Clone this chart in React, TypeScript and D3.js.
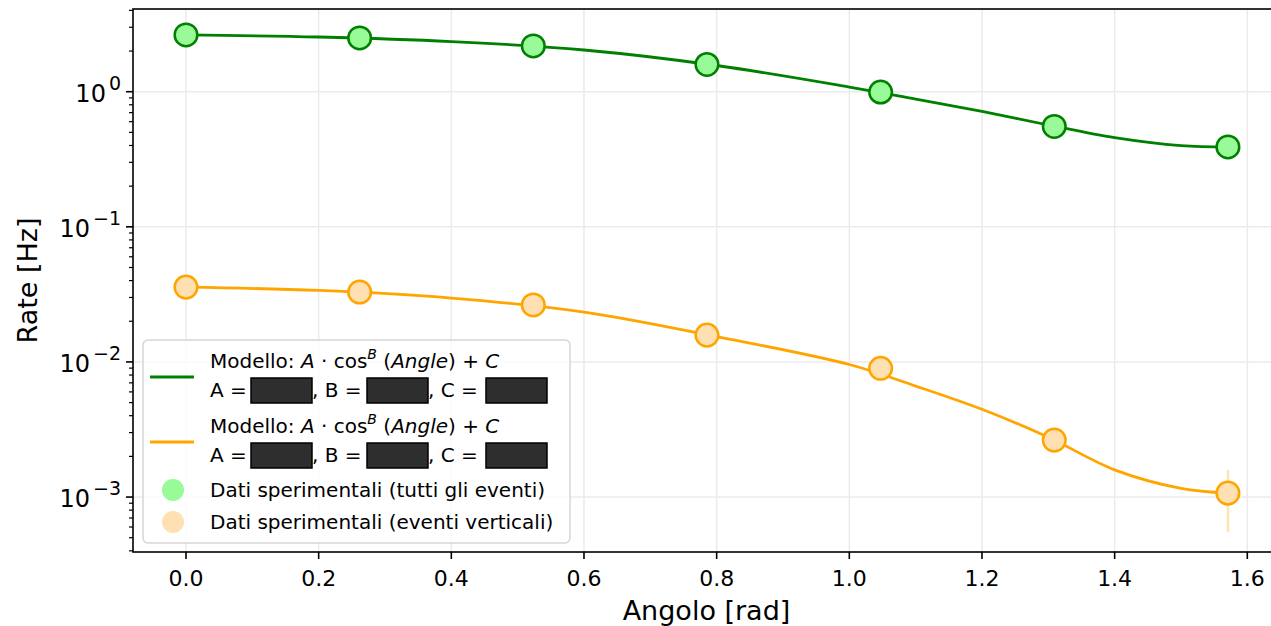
import { useEffect, useRef } from "react";
import * as d3 from "d3";

// angles (rad) of the measurements
const ANGLES = [0, Math.PI / 12, Math.PI / 6, Math.PI / 4, Math.PI / 3, (5 * Math.PI) / 12, Math.PI / 2];
const RATE_ALL = [2.63, 2.5, 2.18, 1.59, 0.995, 0.553, 0.39];
const RATE_VERT = [0.0358, 0.0329, 0.0264, 0.0158, 0.00897, 0.00264, 0.00107];
const ERR_VERT = [0.0004, 0.0004, 0.0003, 0.0003, 0.0002, 0.0002, 0.00052];

// fitted model curves
const FIT_X = [0, 0.2, 0.4, 0.6, 0.8, 1.0, 1.1, 1.2, 1.3, 1.4, 1.5, Math.PI / 2];
const FIT_ALL = [2.63, 2.54, 2.35, 2.035, 1.563, 1.083, 0.883, 0.714, 0.567, 0.457, 0.399, 0.39];
const FIT_VERT = [0.0358, 0.0338, 0.0297, 0.0234, 0.0154, 0.00957, 0.00663, 0.00446, 0.00277, 0.00159, 0.00116, 0.00107];

const X_TICKS = [0, 0.2, 0.4, 0.6, 0.8, 1.0, 1.2, 1.4, 1.6];
const Y_DECADES = [-3, -2, -1, 0];

const GREEN = "#008000";
const GREEN_FILL = "#98fb98";
const ORANGE = "#ffa500";
const ORANGE_FILL = "#ffe0b2";
const FONT = "DejaVu Sans, sans-serif";

export default function App() {
  const svgRef = useRef<SVGSVGElement>(null);

  useEffect(() => {
    const width = 1271;
    const height = 626;
    const margin = { top: 9, left: 133, bottom: 552, right: 1280 };

    const svg = d3.select(svgRef.current);
    svg.selectAll("*").remove();

    const x = d3.scaleLinear().domain([-0.0799, 1.6493]).range([margin.left, margin.right]);
    const y = d3.scaleLog().domain([0.000392, 4.094]).range([margin.bottom, margin.top]);

    // grid
    const grid = svg.append("g");
    grid
      .selectAll("line.gx")
      .data(X_TICKS)
      .join("line")
      .attr("x1", (d) => x(d))
      .attr("x2", (d) => x(d))
      .attr("y1", margin.top)
      .attr("y2", margin.bottom)
      .attr("stroke", "#ebebeb")
      .attr("stroke-width", 1.5);
    grid
      .selectAll("line.gy")
      .data(Y_DECADES)
      .join("line")
      .attr("x1", margin.left)
      .attr("x2", margin.right)
      .attr("y1", (d) => y(Math.pow(10, d)))
      .attr("y2", (d) => y(Math.pow(10, d)))
      .attr("stroke", "#ebebeb")
      .attr("stroke-width", 1.5);

    // fit lines
    const line = d3
      .line<number>()
      .x((_, i) => x(FIT_X[i]))
      .y((d) => y(d))
      .curve(d3.curveCatmullRom);

    svg.append("path").attr("d", line(FIT_ALL)).attr("fill", "none").attr("stroke", GREEN).attr("stroke-width", 2.8);
    svg.append("path").attr("d", line(FIT_VERT)).attr("fill", "none").attr("stroke", ORANGE).attr("stroke-width", 2.8);

    // error bars
    svg
      .selectAll("line.err")
      .data(RATE_VERT)
      .join("line")
      .attr("x1", (_, i) => x(ANGLES[i]))
      .attr("x2", (_, i) => x(ANGLES[i]))
      .attr("y1", (d, i) => y(d + ERR_VERT[i]))
      .attr("y2", (d, i) => y(Math.max(d - ERR_VERT[i], 1e-5)))
      .attr("stroke", ORANGE)
      .attr("stroke-opacity", 0.3)
      .attr("stroke-width", 2.5);

    // markers
    svg
      .selectAll("circle.all")
      .data(RATE_ALL)
      .join("circle")
      .attr("cx", (_, i) => x(ANGLES[i]))
      .attr("cy", (d) => y(d))
      .attr("r", 11.3)
      .attr("fill", GREEN_FILL)
      .attr("stroke", GREEN)
      .attr("stroke-width", 2.5);
    svg
      .selectAll("circle.vert")
      .data(RATE_VERT)
      .join("circle")
      .attr("cx", (_, i) => x(ANGLES[i]))
      .attr("cy", (d) => y(d))
      .attr("r", 11.3)
      .attr("fill", ORANGE_FILL)
      .attr("stroke", ORANGE)
      .attr("stroke-width", 2.5);

    // spines
    svg
      .append("rect")
      .attr("x", margin.left)
      .attr("y", margin.top)
      .attr("width", margin.right - margin.left)
      .attr("height", margin.bottom - margin.top)
      .attr("fill", "none")
      .attr("stroke", "#000")
      .attr("stroke-width", 1.6);

    // x axis ticks
    const xa = svg.append("g");
    X_TICKS.forEach((t) => {
      xa.append("line")
        .attr("x1", x(t))
        .attr("x2", x(t))
        .attr("y1", margin.bottom)
        .attr("y2", margin.bottom + 7)
        .attr("stroke", "#000")
        .attr("stroke-width", 1.6);
      xa.append("text")
        .attr("x", x(t))
        .attr("y", margin.bottom + 34)
        .attr("text-anchor", "middle")
        .attr("font-family", FONT)
        .attr("font-size", 22)
        .attr("fill", "#000")
        .text(t.toFixed(1));
    });

    // y axis ticks (log)
    const ya = svg.append("g");
    const [lo, hi] = y.domain();
    for (let e = -4; e <= 0; e++) {
      for (let m = 1; m <= 9; m++) {
        const v = m * Math.pow(10, e);
        if (v < lo || v > hi) continue;
        const major = m === 1;
        ya.append("line")
          .attr("x1", margin.left)
          .attr("x2", margin.left - (major ? 7 : 4))
          .attr("y1", y(v))
          .attr("y2", y(v))
          .attr("stroke", "#000")
          .attr("stroke-width", major ? 1.6 : 1.2);
      }
    }
    Y_DECADES.forEach((d) => {
      const t = ya
        .append("text")
        .attr("x", margin.left - 12)
        .attr("y", y(Math.pow(10, d)) + 10)
        .attr("text-anchor", "end")
        .attr("font-family", FONT)
        .attr("font-size", 24)
        .attr("fill", "#000");
      t.append("tspan").text("10");
      t.append("tspan")
        .attr("dy", -12)
        .attr("dx", 3)
        .attr("font-size", 19)
        .text(d === 0 ? "0" : `\u2212${-d}`);
    });

    // axis labels
    svg
      .append("text")
      .attr("x", (margin.left + margin.right) / 2)
      .attr("y", 620)
      .attr("text-anchor", "middle")
      .attr("font-family", FONT)
      .attr("font-size", 27)
      .attr("fill", "#000")
      .text("Angolo [rad]");
    svg
      .append("text")
      .attr("transform", `translate(37, ${(margin.top + margin.bottom) / 2}) rotate(-90)`)
      .attr("text-anchor", "middle")
      .attr("font-family", FONT)
      .attr("font-size", 27)
      .attr("fill", "#000")
      .text("Rate [Hz]");

    // legend
    const lg = svg.append("g");
    lg.append("rect")
      .attr("x", 143)
      .attr("y", 340)
      .attr("width", 427)
      .attr("height", 203)
      .attr("rx", 5)
      .attr("fill", "#fff")
      .attr("fill-opacity", 0.8)
      .attr("stroke", "#d6d6d6")
      .attr("stroke-width", 1.5);

    const LF = 20;
    const modelRow = (base: number, color: string) => {
      lg.append("line")
        .attr("x1", 150)
        .attr("x2", 194)
        .attr("y1", base + 9)
        .attr("y2", base + 9)
        .attr("stroke", color)
        .attr("stroke-width", 2.8);
      const t = lg
        .append("text")
        .attr("x", 210)
        .attr("y", base)
        .attr("font-family", FONT)
        .attr("font-size", LF)
        .attr("fill", "#000");
      t.append("tspan").text("Modello: ");
      t.append("tspan").attr("font-style", "italic").text("A");
      t.append("tspan").text(" \u00b7 cos");
      t.append("tspan").attr("font-style", "italic").attr("font-size", 14).attr("dy", -9).text("B");
      t.append("tspan").attr("dy", 9).text(" (");
      t.append("tspan").attr("font-style", "italic").text("Angle");
      t.append("tspan").text(") + ");
      t.append("tspan").attr("font-style", "italic").text("C");

      const ty = base + 29;
      const parts = [
        { label: "A = ", x: 210, box: 251 },
        { label: ", B = ", x: 312, box: 367 },
        { label: ", C = ", x: 428, box: 486 },
      ];
      parts.forEach((p) => {
        lg.append("text")
          .attr("x", p.x)
          .attr("y", ty)
          .attr("font-family", FONT)
          .attr("font-size", LF)
          .attr("fill", "#000")
          .text(p.label);
        lg.append("rect")
          .attr("x", p.box)
          .attr("y", ty - 19)
          .attr("width", 61)
          .attr("height", 25)
          .attr("fill", "#2e2e2e")
          .attr("stroke", "#000")
          .attr("stroke-width", 1.5);
      });
    };
    modelRow(368, GREEN);
    modelRow(433, ORANGE);

    const dotRow = (cy: number, fill: string, label: string) => {
      lg.append("circle").attr("cx", 173).attr("cy", cy).attr("r", 11).attr("fill", fill);
      lg.append("text")
        .attr("x", 210)
        .attr("y", cy + 7)
        .attr("font-family", FONT)
        .attr("font-size", LF)
        .attr("fill", "#000")
        .text(label);
    };
    dotRow(490, GREEN_FILL, "Dati sperimentali (tutti gli eventi)");
    dotRow(522, ORANGE_FILL, "Dati sperimentali (eventi verticali)");

    svg.attr("width", width).attr("height", height);
  }, []);

  return (
    <svg
      ref={svgRef}
      width={1271}
      height={626}
      style={{ position: "absolute", left: 0, top: 0, background: "#fff", overflow: "hidden" }}
    />
  );
}
